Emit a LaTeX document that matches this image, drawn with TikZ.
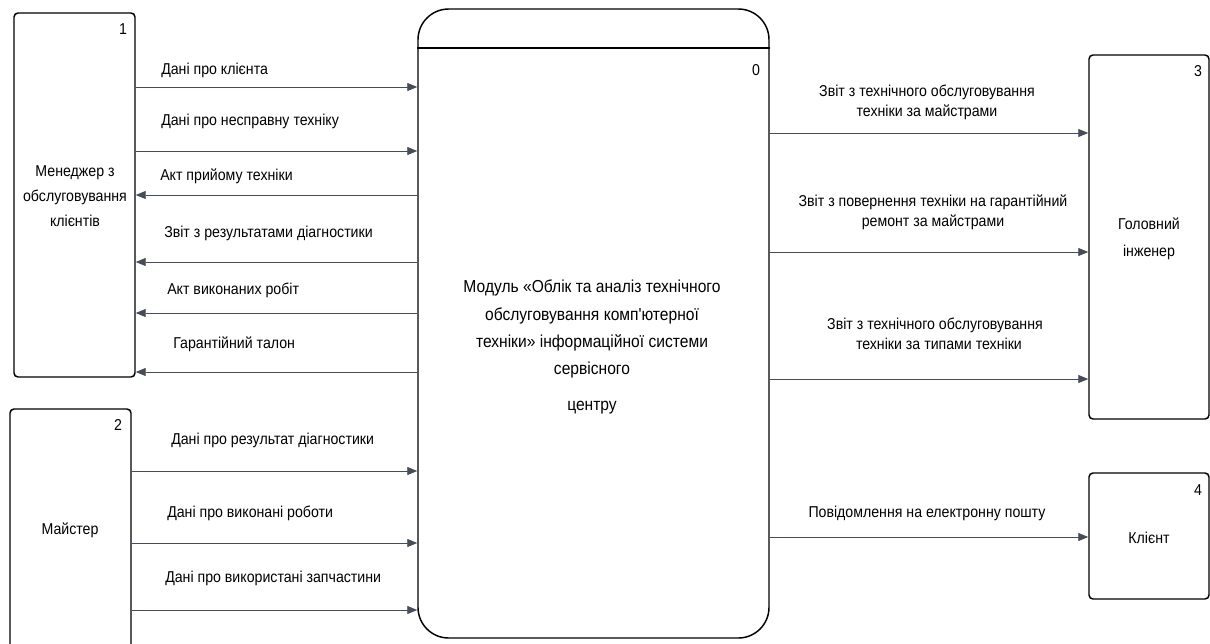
\documentclass[tikz,border=0pt]{standalone}
\usepackage{fontspec}
\setmainfont{Liberation Sans}[FakeStretch=0.9, Ligatures=TeXOff]
\usetikzlibrary{arrows.meta}
\definecolor{flowc}{HTML}{474D58}
\tikzset{
  x=0.75pt, y=-0.75pt,
  ext/.style={draw=black, line width=1.1pt, rounded corners=3pt, inner sep=0pt},
  flow/.style={draw=flowc, line width=0.7pt, -{Triangle[length=7.5pt,width=6pt]}},
  lbl/.style={font=\fontsize{11.8}{14}\selectfont, inner sep=0pt, anchor=west},
  mlbl/.style={font=\fontsize{11.8}{15.5}\selectfont, inner sep=0pt, align=center},
  num/.style={font=\fontsize{11.8}{14}\selectfont, inner sep=0pt},
}
\begin{document}
\begin{tikzpicture}
\clip (0,0) rectangle (1210,643);
\fill[white] (0,0) rectangle (1210,643);

% external entities
\node[ext, minimum width=121*0.75pt, minimum height=364*0.75pt] (m1) at (74.5,195) {};
\node[ext, minimum width=121*0.75pt, minimum height=280*0.75pt] (m2) at (70.5,549) {};
\node[ext, minimum width=120*0.75pt, minimum height=364*0.75pt] (m3) at (1149,237) {};
\node[ext, minimum width=120*0.75pt, minimum height=126*0.75pt] (m4) at (1149,536) {};

% central process
\node[draw=black, line width=1.1pt, rounded corners=23pt, minimum width=351*0.75pt, minimum height=629*0.75pt, inner sep=0pt] (sys) at (593.5,323.5) {};
\draw[line width=1.1pt] (sys.west |- 0,48) -- (sys.east |- 0,48);

% entity numbers
\node[num] (n1) at (123,29) {1};
\node[num] (n2) at (118,425) {2};
\node[num] (n0) at (756,70) {0};
\node[num] (n3) at (1198,71) {3};
\node[num] (n4) at (1198,490) {4};

% entity names
\node[mlbl, font=\fontsize{11.8}{19}\selectfont] (t1) at (75,196) {Менеджер з\\обслуговування\\клієнтів};
\node[mlbl] (t2) at (70,530) {Майстер};
\node[mlbl, font=\fontsize{11.8}{20}\selectfont] (t3) at (1149,239) {Головний\\інженер};
\node[mlbl] (t4) at (1149,538) {Клієнт};
\node[mlbl, font=\fontsize{13}{20.5}\selectfont] (t0) at (592,347) {Модуль «Облік та аналіз технічного\\обслуговування комп'ютерної\\техніки» інформаційної системи\\сервісного\\[6pt]центру};

% flows between entity 1 and the module
\draw[flow] (m1.east |- 0,87) -- (sys.west |- 0,87);
\draw[flow] (m1.east |- 0,151) -- (sys.west |- 0,151);
\draw[flow] (sys.west |- 0,195) -- (m1.east |- 0,195);
\draw[flow] (sys.west |- 0,262) -- (m1.east |- 0,262);
\draw[flow] (sys.west |- 0,313) -- (m1.east |- 0,313);
\draw[flow] (sys.west |- 0,372) -- (m1.east |- 0,372);
\node[lbl] (f1) at (161,70) {Дані про клієнта};
\node[lbl] (f2) at (161,121) {Дані про несправну техніку};
\node[lbl] (f3) at (160,176) {Акт прийому техніки};
\node[lbl] (f4) at (164,233) {Звіт з результатами діагностики};
\node[lbl] (f5) at (167,290) {Акт виконаних робіт};
\node[lbl] (f6) at (173,344) {Гарантійний талон};

% flows between entity 2 and the module
\draw[flow] (m2.east |- 0,471) -- (sys.west |- 0,471);
\draw[flow] (m2.east |- 0,543) -- (sys.west |- 0,543);
\draw[flow] (m2.east |- 0,610) -- (sys.west |- 0,610);
\node[lbl] (f7) at (171,440) {Дані про результат діагностики};
\node[lbl] (f8) at (167,513) {Дані про виконані роботи};
\node[lbl] (f9) at (165,578) {Дані про використані запчастини};

% flows from the module to entities 3 and 4
\draw[flow] (sys.east |- 0,133) -- (m3.west |- 0,133);
\draw[flow] (sys.east |- 0,252) -- (m3.west |- 0,252);
\draw[flow] (sys.east |- 0,379) -- (m3.west |- 0,379);
\draw[flow] (sys.east |- 0,537) -- (m4.west |- 0,537);
\node[mlbl, font=\fontsize{11.8}{15}\selectfont] (g1) at (927,102) {Звіт з технічного обслуговування\\техніки за майстрами};
\node[mlbl, font=\fontsize{11.8}{15}\selectfont] (g2) at (933,212) {Звіт з повернення техніки на гарантійний\\ремонт за майстрами};
\node[mlbl, font=\fontsize{11.8}{15}\selectfont] (g3) at (935,334) {Звіт з технічного обслуговування\\\ \ техніки за типами техніки};
\node[mlbl] (g4) at (927,513) {Повідомлення на електронну пошту};
\end{tikzpicture}
\end{document}
